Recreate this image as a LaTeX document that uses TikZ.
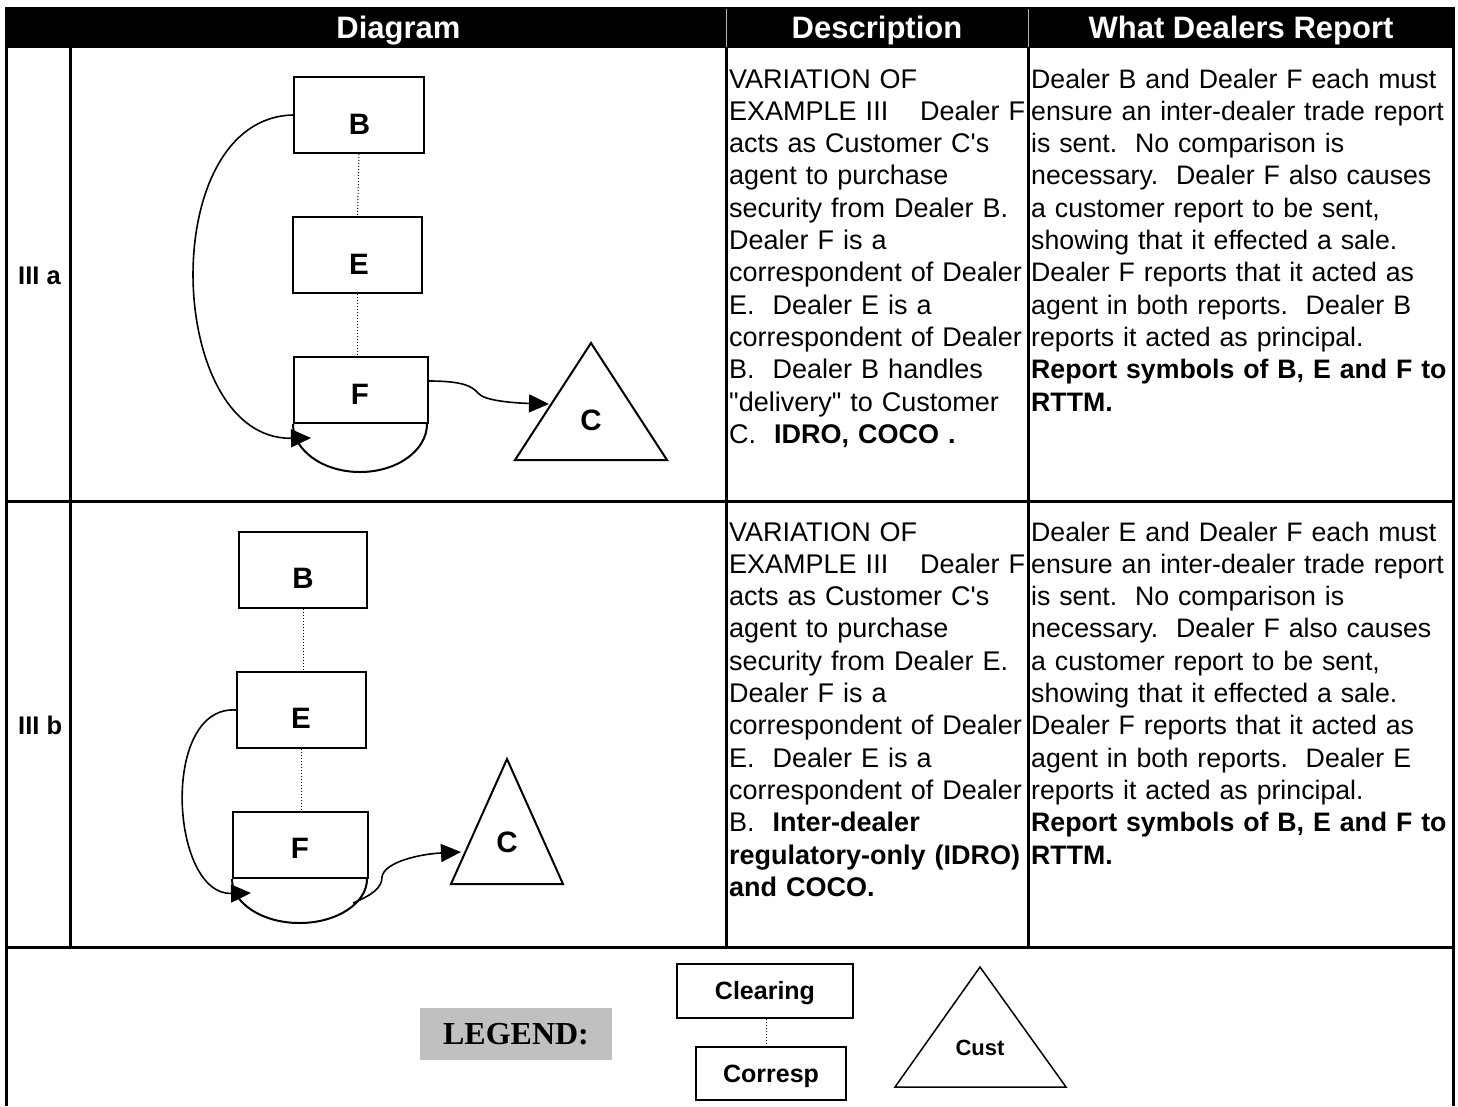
\documentclass[tikz,border=0pt]{standalone}
\usepackage{fontspec}
\newfontfamily\arial{Liberation Sans}
\newfontfamily\legendserif{Liberation Serif}
\usetikzlibrary{arrows.meta}
\definecolor{legendgray}{HTML}{C0C0C0}
\begin{document}
\frenchspacing
\begin{tikzpicture}[x=1pt,y=-1pt,
  gridline/.style={line width=3pt},
  headtext/.style={font={\arial\bfseries\fontsize{31}{36}\selectfont},text=white,anchor=base,inner sep=0pt},
  rowlabel/.style={font={\arial\bfseries\fontsize{25.5}{30}\selectfont},anchor=base west,inner sep=0pt},
  dbox/.style={draw,line width=2pt,rectangle,inner sep=0pt},
  dlabel/.style={font={\arial\bfseries\fontsize{29.5}{34}\selectfont},anchor=base,inner sep=0pt},
  corr/.style={line width=1pt,dotted},
  conn/.style={line width=1.6pt,-{Triangle[length=20pt,width=18pt]}},
  tri/.style={line width=2pt,line join=miter},
  desctext/.style={font={\arial\fontsize{27}{32.3}\selectfont},text width=296pt,align=left,inner sep=0pt,anchor=base west},
  reptext/.style={font={\arial\fontsize{26.7}{32.3}\selectfont},text width=421pt,align=left,inner sep=0pt,anchor=base west},
  lbox/.style={draw,line width=1.5pt,rectangle,inner sep=0pt,font={\arial\bfseries\fontsize{25}{30}\selectfont},text height=17.9pt,text depth=0pt}
]
\useasboundingbox (0,0) rectangle (1458,1106);
\fill[white] (0,0) rectangle (1458,1106);

% header band
\fill[black] (5,7) rectangle (1455,48);
\draw[gray!60,line width=0.8pt] (726,9) -- (726,47) (1028,9) -- (1028,47);
\node[headtext] (hdiag) at (398.5,38) {Diagram};
\node[headtext] (hdesc) at (877,38) {Description};
\node[headtext] (hrep) at (1241,38) {What Dealers Report};

% table rules
\draw[gridline] (6,47) -- (6,1106);
\draw[gridline] (1453,47) -- (1453,1106);
\draw[gridline] (70,47) -- (70,947);
\draw[gridline] (726,47) -- (726,947);
\draw[gridline] (1028,47) -- (1028,947);
\draw[gridline] (4.5,501) -- (1454.5,501);
\draw[gridline] (4.5,947) -- (1454.5,947);

% row labels
\node[rowlabel] (rowa) at (18,284) {III a};
\node[rowlabel] (rowb) at (18,734) {III b};

% ---------- row III a ----------
\node[dbox,minimum width=130pt,minimum height=76pt] (B1) at (359,115) {};
\node[dbox,minimum width=129pt,minimum height=76pt] (E1) at (357.5,255) {};
\node[dbox,minimum width=134pt,minimum height=66pt] (F1) at (361,390) {};
\draw[line width=2pt] (F1.south west) arc[start angle=180,end angle=360,x radius=67pt,y radius=48pt];
\node[dlabel] (B1t) at (359.5,134.4) {B};
\node[dlabel] (E1t) at (359,274) {E};
\node[dlabel] (F1t) at (360,404) {F};
\draw[corr] (B1.south) -- (E1.north);
\draw[corr] (E1.south) -- (E1.south |- F1.north);
\coordinate (C1top) at (591,343);
\coordinate (C1left) at (515,460);
\coordinate (C1right) at (667,460);
\draw[tri] (C1top) -- (C1left) -- (C1right) -- cycle;
\node[dlabel] (C1t) at (591,430.4) {C};
\coordinate (F1in) at (311,438);
\coordinate (C1in) at (549,404);
\draw[conn] (B1.west) .. controls (155,118) and (165,440) .. (F1in);
\draw[conn] ([yshift=9pt]F1.east) .. controls (462,381) and (472,386) .. (478,393)
  .. controls (484,401) and (515,403) .. (C1in);

% ---------- row III b ----------
\node[dbox,minimum width=128pt,minimum height=76pt] (B2) at (303,570) {};
\node[dbox,minimum width=129pt,minimum height=76pt] (E2) at (301.5,710) {};
\node[dbox,minimum width=135pt,minimum height=66pt] (F2) at (300.5,845) {};
\draw[line width=2pt] (F2.south west) arc[start angle=180,end angle=360,x radius=67.5pt,y radius=44pt];
\node[dlabel] (B2t) at (303,588.4) {B};
\node[dlabel] (E2t) at (301,728.4) {E};
\node[dlabel] (F2t) at (300,858.4) {F};
\draw[corr] (B2.south) -- (B2.south |- E2.north);
\draw[corr] (E2.south) -- (E2.south |- F2.north);
\coordinate (C2top) at (507,759);
\coordinate (C2left) at (451,884);
\coordinate (C2right) at (563,884);
\draw[tri] (C2top) -- (C2left) -- (C2right) -- cycle;
\node[dlabel] (C2t) at (507,852.4) {C};
\coordinate (F2in) at (251,893);
\coordinate (F2out) at (353,903);
\coordinate (C2in) at (461,852);
\draw[conn] (E2.west) .. controls (160,705) and (170,895) .. (F2in);
\draw[conn] (F2out) .. controls (372,895) and (382,888) .. (382,877)
  .. controls (384,862) and (420,854) .. (C2in);

% ---------- descriptions ----------
\node[desctext] (desca) at (729,88) {VARIATION OF\\
EXAMPLE III\hfill Dealer F\\
acts as Customer C's\\
agent to purchase\\
security from Dealer B.\\
Dealer F is a\\
correspondent of Dealer\\
E.\ \ Dealer E is a\\
correspondent of Dealer\\
B.\ \ Dealer B handles\\
"delivery" to Customer\\
C.\ \ \textbf{IDRO, COCO .}};

\node[reptext] (repa) at (1031,88) {Dealer B and Dealer F each must\\
ensure an inter-dealer trade report\\
is sent.\ \ No comparison is\\
necessary.\ \ Dealer F also causes\\
a customer report to be sent,\\
showing that it effected a sale.\\
Dealer F reports that it acted as\\
agent in both reports.\ \ Dealer B\\
reports it acted as principal.\\
\textbf{Report symbols of B, E and F to}\\
\textbf{RTTM.}};

\node[desctext] (descb) at (729,541) {VARIATION OF\\
EXAMPLE III\hfill Dealer F\\
acts as Customer C's\\
agent to purchase\\
security from Dealer E.\\
Dealer F is a\\
correspondent of Dealer\\
E.\ \ Dealer E is a\\
correspondent of Dealer\\
B.\ \ \textbf{Inter-dealer}\\
\textbf{regulatory-only (IDRO)}\\
\textbf{and COCO.}};

\node[reptext] (repb) at (1031,541) {Dealer E and Dealer F each must\\
ensure an inter-dealer trade report\\
is sent.\ \ No comparison is\\
necessary.\ \ Dealer F also causes\\
a customer report to be sent,\\
showing that it effected a sale.\\
Dealer F reports that it acted as\\
agent in both reports.\ \ Dealer E\\
reports it acted as principal.\\
\textbf{Report symbols of B, E and F to}\\
\textbf{RTTM.}};

% ---------- legend ----------
\node[fill=legendgray,minimum width=192pt,minimum height=52pt,inner sep=0pt,
      font={\legendserif\bfseries\fontsize{32}{36}\selectfont}] (legend) at (516,1034) {LEGEND:};
\node[lbox,minimum width=176pt,minimum height=54pt] (clear) at (765,991) {Clearing};
\node[lbox,minimum width=150pt,minimum height=53pt] (corresp) at (771,1073.5) {Corresp};
\draw[corr] (clear.south -| 766,0) -- (corresp.north -| 766,0);
\coordinate (Ltop) at (980,967);
\coordinate (Lleft) at (895,1087);
\coordinate (Lright) at (1066,1087);
\draw[line width=1.5pt] (Ltop) -- (Lleft) -- (Lright) -- cycle;
\node[font={\arial\bfseries\fontsize{22}{26}\selectfont},anchor=base,inner sep=0pt] (cust) at (980,1055) {Cust};
\end{tikzpicture}
\end{document}
